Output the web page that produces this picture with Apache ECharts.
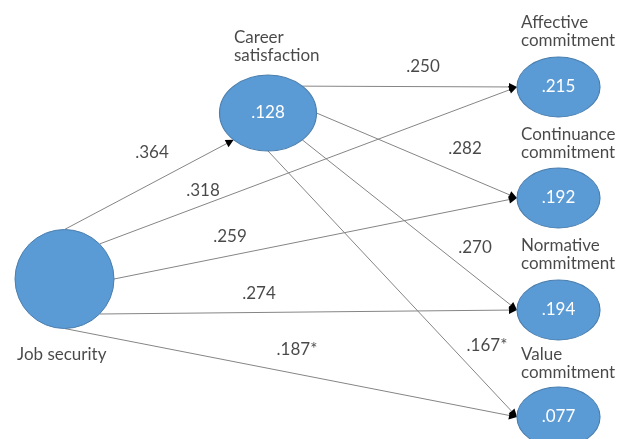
<!DOCTYPE html>
<html lang="en">
<head>
  <meta charset="UTF-8">
  <title>Job security path model</title>
  <script src="https://cdn.jsdelivr.net/npm/echarts@6/dist/echarts.min.js"></script>
  <style>
    html, body { margin: 0; padding: 0; background: #fff; }
    #chart { width: 624px; height: 439px; }
  </style>
</head>
<body>
<div id="chart"></div>
<script>
  // constructs and their R² values
  const nodeTitles = ['Job security', 'Career\nsatisfaction', 'Affective\ncommitment',
                      'Continuance\ncommitment', 'Normative\ncommitment', 'Value\ncommitment'];
  const nodeR2 = ['', '.128', '.215', '.192', '.194', '.077'];

  // paths: source node, target node, coefficient
  const pathFrom = [0, 0, 0, 0, 0, 1, 1, 1, 1];
  const pathTo   = [1, 2, 3, 4, 5, 2, 3, 4, 5];
  const pathCoef = ['.364', '.318', '.259', '.274', '.187*', '.250', '.282', '.270', '.167*'];

  // layout, in pixels of the 624x439 frame
  const nodeCenter = [[64.5, 279], [268, 113], [558.5, 87], [558.5, 198], [558.5, 310], [558.5, 417]];
  const nodeRadius = [[49.5, 49.5], [48.5, 38], [41.5, 30], [41.5, 30], [41.5, 30], [41.5, 30]];
  const titlePos = [[17, 355], [234, 46.5], [521, 31.5], [521, 143.5], [521, 255], [521, 364]];
  // connection points on the shapes (degrees, y down)
  const fromAngle = [-90, -45, 0, 45, 90, -45, 0, 45, 90];
  const toAngle   = [135, 180, 180, 180, 180, 180, 180, 180, 180];
  const coefPos = [[152, 153], [203, 191], [230, 237], [259, 294], [297, 350],
                   [423, 67], [465, 149], [475, 248], [487, 346]];

  const FONT = 'Lato';

  function anchor(i, deg) {
    const a = deg * Math.PI / 180;
    return [nodeCenter[i][0] + nodeRadius[i][0] * Math.cos(a),
            nodeCenter[i][1] + nodeRadius[i][1] * Math.sin(a)];
  }

  const lineData = [];
  const arrowData = [];
  pathFrom.forEach((s, k) => {
    const p1 = anchor(s, fromAngle[k]);
    const p2 = anchor(pathTo[k], toAngle[k]);
    const dx = p2[0] - p1[0], dy = p2[1] - p1[1];
    const len = Math.sqrt(dx * dx + dy * dy);
    const ux = dx / len, uy = dy / len;
    // arrow symbol is centred on the end point, pull it back by half its length
    const tip = [p2[0] - ux * 4, p2[1] - uy * 4];
    lineData.push({ coords: [p1, tip] });
    arrowData.push({ coords: [[tip[0] - ux * 2, tip[1] - uy * 2], tip] });
  });

  const chart = echarts.init(document.getElementById('chart'));

  chart.setOption({
    animation: false,
    grid: { left: 0, right: 0, top: 0, bottom: 0 },
    xAxis: { type: 'value', min: 0, max: 624, show: false },
    yAxis: { type: 'value', min: 0, max: 439, inverse: true, show: false },
    series: [
      {
        type: 'lines',
        coordinateSystem: 'cartesian2d',
        z: 1,
        lineStyle: { color: '#858585', width: 1, opacity: 1 },
        symbol: ['none', 'none'],
        data: lineData
      },
      {
        type: 'lines',
        coordinateSystem: 'cartesian2d',
        z: 2,
        lineStyle: { color: '#000', width: 1, opacity: 1 },
        symbol: ['none', 'triangle'],
        symbolSize: [6, 8],
        data: arrowData
      },
      {
        type: 'scatter',
        z: 3,
        symbol: 'path://M0,1A1,1,0,1,1,2,1A1,1,0,1,1,0,1Z',
        itemStyle: { color: '#5b9bd5', borderColor: '#4a7eae', borderWidth: 1, opacity: 1 },
        label: {
          show: true, position: 'inside', color: '#fff',
          fontFamily: FONT, fontSize: 17,
          formatter: p => nodeR2[p.dataIndex]
        },
        data: nodeCenter.map((c, i) => ({
          value: c,
          symbolSize: [nodeRadius[i][0] * 2, nodeRadius[i][1] * 2]
        }))
      },
      {
        type: 'scatter',
        z: 4,
        symbolSize: 0,
        label: {
          show: true, position: 'right', distance: 0, align: 'left',
          color: '#1a1a1a', fontFamily: FONT, fontSize: 17, lineHeight: 18,
          formatter: p => nodeTitles[p.dataIndex]
        },
        data: titlePos
      },
      {
        type: 'scatter',
        z: 4,
        symbolSize: 0,
        label: {
          show: true, position: 'inside',
          color: '#1a1a1a', fontFamily: FONT, fontSize: 17,
          formatter: p => pathCoef[p.dataIndex]
        },
        data: coefPos
      }
    ]
  });
</script>
</body>
</html>
